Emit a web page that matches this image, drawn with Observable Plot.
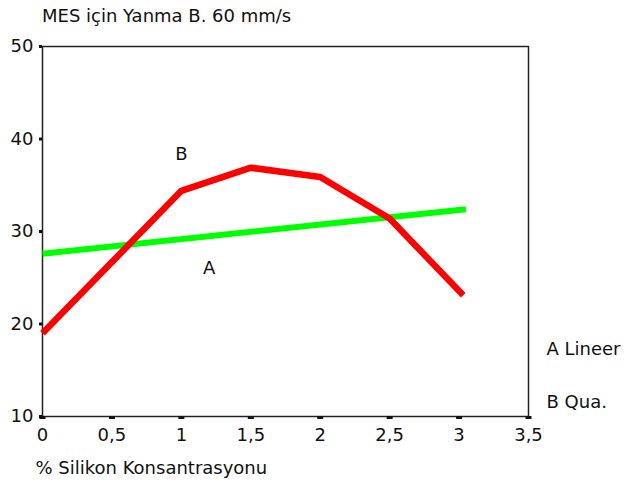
<!DOCTYPE html>
<html><head><meta charset="utf-8">
<script src="https://cdn.jsdelivr.net/npm/d3@7"></script>
<script src="https://cdn.jsdelivr.net/npm/@observablehq/plot@0.6"></script>
<style>
body{margin:0;background:#fff;font-family:"DejaVu Sans",sans-serif;color:#111;}
#title{height:30px;padding-left:42px;font-size:18px;line-height:32px;white-space:nowrap;}
</style></head><body>
<div id="title">MES için Yanma B. 60 mm/s</div>
<div id="chart"></div>
<script>
// Series B (quadratic)
const quaX = [0, 1, 1.5, 2, 2.5, 3.03];
const quaY = [19.0, 34.4, 36.9, 35.9, 31.4, 23.1];
// Series A (linear)
const linX = [0, 3.05];
const linY = [27.6, 32.4];
const xTicks = [0, 0.5, 1, 1.5, 2, 2.5, 3, 3.5];
const yTicks = [10, 20, 30, 40, 50];
const seriesLabels = [{x: 1.0, y: 38.4, text: "B"}, {x: 1.2, y: 26.0, text: "A"}];
const legendItems = ["A Lineer", "B Qua."];
const xLabel = "% Silikon Konsantrasyonu";

const qua = quaX.map((x, i) => ({x, y: quaY[i]}));
const lin = linX.map((x, i) => ({x, y: linY[i]}));
const fmt = d => String(d).replace(".", ",");

const chart = Plot.plot({
  width: 626,
  height: 458,
  marginTop: 16,
  marginBottom: 72,
  marginLeft: 42,
  marginRight: 98,
  style: {fontFamily: "DejaVu Sans", fontSize: "18px", background: "#fff", color: "#111"},
  x: {domain: [0, 3.5]},
  y: {domain: [10, 50]},
  marks: [
    Plot.frame({stroke: "#222", strokeWidth: 1.5}),
    Plot.axisX({ticks: xTicks, tickFormat: fmt, tickSize: 3, tickPadding: 9, strokeWidth: 6, label: null}),
    Plot.axisY({ticks: yTicks, tickSize: 3, tickPadding: 6, strokeWidth: 3, label: null}),
    Plot.line(lin, {x: "x", y: "y", stroke: "#00ff00", strokeWidth: 6, strokeLinecap: "butt"}),
    Plot.line(qua, {x: "x", y: "y", stroke: "#ff0000", strokeWidth: 6.5, strokeLinecap: "butt", strokeLinejoin: "round"}),
    Plot.text(seriesLabels, {x: "x", y: "y", text: "text", fill: "#111"}),
    Plot.text([legendItems[0]], {frameAnchor: "bottom-right", dx: 18, dy: -62, textAnchor: "start", fill: "#111"}),
    Plot.text([legendItems[1]], {frameAnchor: "bottom-right", dx: 18, dy: -9, textAnchor: "start", fill: "#111"}),
    Plot.text([xLabel], {frameAnchor: "bottom-left", dx: -7, dy: 57, textAnchor: "start", fill: "#111"})
  ]
});
document.getElementById("chart").appendChild(chart);
</script>
</body></html>
